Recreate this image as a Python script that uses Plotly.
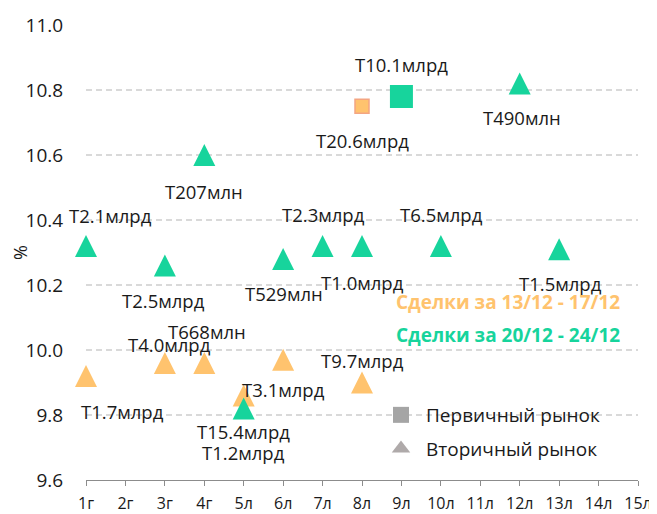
import plotly.graph_objects as go

# ---------------- data ----------------
categories = ["1г", "2г", "3г", "4г", "5л", "6л", "7л", "8л", "9л", "10л",
              "11л", "12л", "13л", "14л", "15л"]

# Сделки за 13/12 - 17/12 (orange)
prev_primary_x = ["8л"]
prev_primary_y = [10.75]
prev_primary_labels = ["T20.6млрд"]

prev_secondary_x = ["1г", "3г", "4г", "5л", "6л", "8л"]
prev_secondary_y = [9.92, 9.96, 9.96, 9.86, 9.97, 9.90]
prev_secondary_labels = ["T1.7млрд", "T4.0млрд", "T668млн", "T15.4млрд", "T3.1млрд", "T9.7млрд"]

# Сделки за 20/12 - 24/12 (green)
cur_primary_x = ["9л"]
cur_primary_y = [10.78]
cur_primary_labels = ["T10.1млрд"]

cur_secondary_x = ["1г", "3г", "4г", "5л", "6л", "7л", "8л", "10л", "12л", "13л"]
cur_secondary_y = [10.32, 10.26, 10.60, 9.82, 10.28, 10.32, 10.32, 10.32, 10.82, 10.31]
cur_secondary_labels = ["T2.1млрд", "T2.5млрд", "T207млн", "T1.2млрд", "T529млн",
                        "T2.3млрд", "T1.0млрд", "T6.5млрд", "T490млн", "T1.5млрд"]

y_ticks = [9.6, 9.8, 10.0, 10.2, 10.4, 10.6, 10.8, 11.0]

week_titles = ["Сделки за 13/12 - 17/12", "Сделки за 20/12 - 24/12"]
legend_names = ["Первичный рынок", "Вторичный рынок"]

# ---------------- style ----------------
ORANGE = "#FFC36E"
ORANGE_EDGE = "#F4A582"
GREEN = "#17D49C"
FONT = "Open Sans"
TXT = "#1a1a1a"

# page body adds an 8px offset; plot area spans 86..638 x 25..480 in the window
OFF = 8
PL, PR, PT, PB = 86, 638, 25, 480
PW, PH = PR - PL, PB - PT

# label offsets in px (dx right, dy down) for each point's data label
prev_primary_off = [(0, 34)]
prev_secondary_off = [(36, 35), (5, -19), (3, -32), (0, 36), (0, 30), (0, -22)]
cur_primary_off = [(0, -32)]
cur_secondary_off = [(24, -31), (-1, 35), (0, 36), (0, 44), (1, 34),
                     (1, -32), (0, 36), (1, -32), (2, 34), (1, 34)]

TRI = dict(symbol="arrow-down", angle=180, standoff=11, size=22)

fig = go.Figure()

fig.add_trace(go.Scatter(
    x=prev_primary_x, y=prev_primary_y, mode="markers", showlegend=False,
    marker=dict(symbol="square", size=14, color=ORANGE,
                line=dict(color=ORANGE_EDGE, width=1.5)),
    cliponaxis=False, name=week_titles[0]))
fig.add_trace(go.Scatter(
    x=prev_secondary_x, y=prev_secondary_y, mode="markers", showlegend=False,
    marker=dict(color=ORANGE, line=dict(width=0), **TRI),
    cliponaxis=False, name=week_titles[0]))
fig.add_trace(go.Scatter(
    x=cur_primary_x, y=cur_primary_y, mode="markers", showlegend=False,
    marker=dict(symbol="square", size=23, color=GREEN, line=dict(width=0)),
    cliponaxis=False, name=week_titles[1]))
fig.add_trace(go.Scatter(
    x=cur_secondary_x, y=cur_secondary_y, mode="markers", showlegend=False,
    marker=dict(color=GREEN, line=dict(width=0), **TRI),
    cliponaxis=False, name=week_titles[1]))

# legend-only traces (gray)
fig.add_trace(go.Scatter(
    x=[None], y=[None], mode="markers", name=legend_names[0], legendgroup="a",
    marker=dict(symbol="square", size=16, color="#A5A5A5")))
fig.add_trace(go.Scatter(
    x=[None], y=[None], mode="markers", name=legend_names[1], legendgroup="b",
    marker=dict(symbol="triangle-up", size=16, color="#AFAAAA")))

annotations = []
for xs, ys, labs, offs in [
    (prev_primary_x, prev_primary_y, prev_primary_labels, prev_primary_off),
    (prev_secondary_x, prev_secondary_y, prev_secondary_labels, prev_secondary_off),
    (cur_primary_x, cur_primary_y, cur_primary_labels, cur_primary_off),
    (cur_secondary_x, cur_secondary_y, cur_secondary_labels, cur_secondary_off),
]:
    for xv, yv, lab, (dx, dy) in zip(xs, ys, labs, offs):
        annotations.append(dict(
            x=xv, y=yv, xref="x", yref="y", text=lab, showarrow=False,
            xshift=dx, yshift=-dy, xanchor="center", yanchor="middle",
            font=dict(family=FONT, size=18.5, color=TXT)))

for title, color, ypx in [(week_titles[0], ORANGE, 302), (week_titles[1], GREEN, 335)]:
    annotations.append(dict(
        x=(394 - PL) / PW, y=(PB - ypx) / PH, xref="paper", yref="paper",
        text="<b>" + title + "</b>", showarrow=False, xanchor="left", yanchor="middle",
        font=dict(family=FONT, size=19, color=color)))

fig.update_layout(
    width=657 - OFF, height=514 - OFF,
    margin=dict(l=PL - OFF, r=657 - PR, t=PT - OFF, b=514 - PB),
    paper_bgcolor="white", plot_bgcolor="white",
    font=dict(family=FONT, size=18, color=TXT),
    annotations=annotations,
    showlegend=True,
    legend=dict(x=(376 - PL) / PW, y=(PB - 396) / PH, xanchor="left", yanchor="top",
                bgcolor="rgba(0,0,0,0)", font=dict(family=FONT, size=19, color=TXT),
                itemwidth=40, tracegroupgap=6, traceorder="grouped"),
    xaxis=dict(
        type="category", categoryorder="array", categoryarray=categories,
        tickvals=categories, range=[0, len(categories) - 1],
        showgrid=False, zeroline=False,
        showline=True, linecolor="#8c8c8c", linewidth=1,
        ticks="outside", ticklen=5, tickcolor="#8c8c8c", tickwidth=1,
        ticklabelstandoff=4,
        tickfont=dict(family=FONT, size=16, color=TXT), automargin=False),
    yaxis=dict(
        range=[9.6, 11.0], tickvals=y_ticks, ticktext=[f"{v:.1f}" for v in y_ticks],
        showgrid=True, gridcolor="#D9D9D9", gridwidth=1.5, griddash="6px,4px",
        zeroline=False, showline=False,
        ticks="outside", ticklen=18, tickcolor="rgba(0,0,0,0)",
        tickfont=dict(family=FONT, size=19, color=TXT), automargin=False,
        title=dict(text="%", font=dict(family=FONT, size=18, color=TXT), standoff=0)),
)

fig.write_html("out.html")
